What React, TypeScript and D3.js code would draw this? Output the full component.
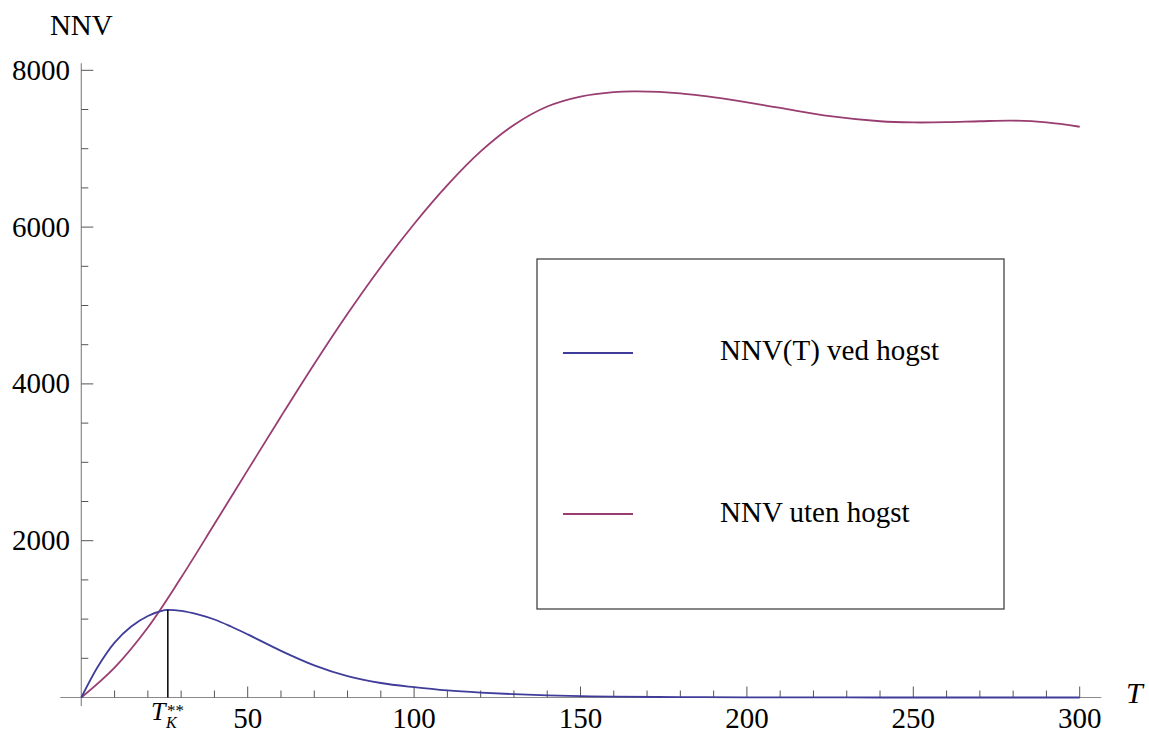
import React from "react";
import * as d3 from "d3";

// ---- data ----
const tHogst = [0, 5, 10, 15, 20, 25, 26, 30, 35, 40, 45, 50, 60, 70, 80, 90, 100, 110, 120, 130, 140, 150, 160, 180, 200, 230, 260, 300];
const nnvHogst = [0, 395, 700, 905, 1040, 1115, 1118, 1105, 1060, 995, 905, 805, 595, 410, 272, 185, 132, 90, 62, 42, 27, 17, 11, 5, 2, 0.5, 0, 0];

const tUten = [0, 10, 20, 30, 40, 50, 60, 70, 80, 90, 100, 110, 120, 130, 140, 150, 160, 167, 180, 195, 210, 225, 240, 250, 260, 270, 280, 290, 300];
const nnvUten = [0, 382, 893, 1530, 2212, 2900, 3585, 4255, 4895, 5492, 6040, 6535, 6965, 7303, 7538, 7665, 7722, 7730, 7705, 7625, 7520, 7415, 7350, 7335, 7338, 7350, 7358, 7335, 7280];

const tKstar = 26;
const tKstarValue = 1118;

const xMajorTicks = [50, 100, 150, 200, 250, 300];
const xMinorTicks = d3.range(10, 301, 10);
const yMajorTicks = [2000, 4000, 6000, 8000];
const yMinorTicks = d3.range(500, 8001, 500);

const seriesNames = ["NNV(T) ved hogst", "NNV uten hogst"];
const seriesColors = ["rgb(63,61,153)", "rgb(153,61,113)"];

const W = 1149;
const H = 731;
const FONT = "'Liberation Serif', 'DejaVu Serif', serif";

export default function App() {
  const x = d3.scaleLinear().domain([0, 300]).range([81.3, 1079.7]);
  const y = d3.scaleLinear().domain([0, 8000]).range([697.5, 70.3]);
  const axisColor = "#8a8a8a";

  const line = d3
    .line<[number, number]>()
    .x((d) => x(d[0]))
    .y((d) => y(Math.max(0, d[1])))
    .curve(d3.curveCatmullRom.alpha(0.5));

  const hogstPts: [number, number][] = tHogst.map((t, i) => [t, nnvHogst[i]]);
  const utenPts: [number, number][] = tUten.map((t, i) => [t, nnvUten[i]]);

  const x0 = x(0);
  const y0 = y(0);

  return (
    <div style={{ position: "absolute", left: 0, top: 0, width: W, height: H, background: "#fff" }}>
      <svg width={W} height={H} style={{ display: "block" }} fontFamily={FONT}>
        <rect x={0} y={0} width={W} height={H} fill="#fff" />
        {/* axes */}
        <line x1={x(-6.3)} x2={x(306.5)} y1={y0} y2={y0} stroke={axisColor} strokeWidth={1.2} />
        <line x1={x0} x2={x0} y1={y(-110)} y2={y(8090)} stroke={axisColor} strokeWidth={1.2} />
        {/* x ticks */}
        {xMinorTicks.map((t) => {
          const major = xMajorTicks.includes(t);
          return (
            <line key={"xt" + t} x1={x(t)} x2={x(t)} y1={y0} y2={y0 - (major ? 11 : 7)} stroke="#555" strokeWidth={1} />
          );
        })}
        {xMajorTicks.map((t) => (
          <text key={"xl" + t} x={x(t)} y={728} fontSize={29} textAnchor="middle" fill="#000">
            {t}
          </text>
        ))}
        {/* y ticks */}
        {yMinorTicks.map((v) => {
          const major = yMajorTicks.includes(v);
          return (
            <line key={"yt" + v} x1={x0} x2={x0 + (major ? 12 : 7)} y1={y(v)} y2={y(v)} stroke="#555" strokeWidth={1} />
          );
        })}
        {yMajorTicks.map((v) => (
          <text key={"yl" + v} x={70} y={y(v) + 9.5} fontSize={29} textAnchor="end" fill="#000">
            {v}
          </text>
        ))}
        {/* axis labels */}
        <text x={x0} y={35} fontSize={29} textAnchor="middle" fill="#000">
          NNV
        </text>
        <text x={1126} y={703} fontSize={30} fontStyle="italic" fill="#000">
          T
        </text>
        {/* T_K** label */}
        <text x={151} y={720} fontSize={26} fontStyle="italic" fill="#000">
          T
        </text>
        <text x={166} y={728} fontSize={16} fontStyle="italic" fill="#000">
          K
        </text>
        <text x={167} y={716} fontSize={17} fill="#000">
          **
        </text>
        {/* curves */}
        <path d={line(utenPts) || ""} fill="none" stroke={seriesColors[1]} strokeWidth={1.8} />
        <path d={line(hogstPts) || ""} fill="none" stroke={seriesColors[0]} strokeWidth={1.8} />
        {/* T_K** vertical line */}
        <line x1={x(tKstar)} x2={x(tKstar)} y1={y0} y2={y(tKstarValue)} stroke="#000" strokeWidth={1.5} />
        {/* legend */}
        <rect x={537} y={259} width={467} height={350} fill="#fff" stroke="#444" strokeWidth={1.3} />
        <line x1={563} x2={633} y1={353} y2={353} stroke={seriesColors[0]} strokeWidth={1.8} />
        <text x={720} y={360} fontSize={29} fill="#000">
          {seriesNames[0]}
        </text>
        <line x1={563} x2={633} y1={514} y2={514} stroke={seriesColors[1]} strokeWidth={1.8} />
        <text x={720} y={522} fontSize={29} fill="#000">
          {seriesNames[1]}
        </text>
      </svg>
    </div>
  );
}
